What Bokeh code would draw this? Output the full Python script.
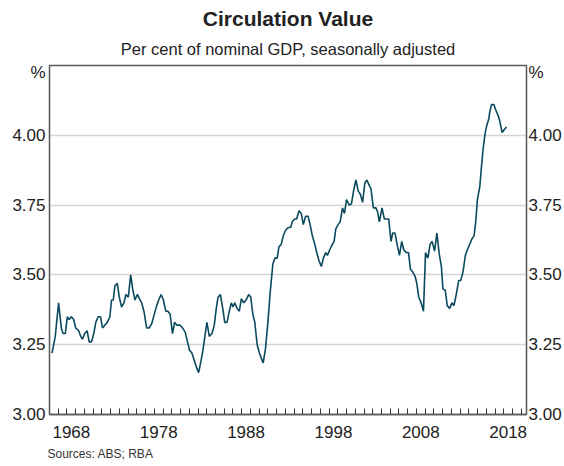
from bokeh.plotting import figure
from bokeh.models import FixedTicker, LinearAxis, Title, Range1d, NumeralTickFormatter
from bokeh.embed import file_html
from bokeh.resources import INLINE

# ---- data ----
years = [
    1966.29, 1966.66, 1967.04, 1967.35, 1967.55, 1967.81, 1968.04, 1968.24, 1968.50, 1968.77,
    1969.00, 1969.34, 1969.57, 1969.77, 1970.03, 1970.31, 1970.54, 1970.80, 1971.07, 1971.30,
    1971.57, 1971.84, 1972.07, 1972.33, 1972.61, 1972.91, 1973.10, 1973.30, 1973.48, 1973.76,
    1973.99, 1974.25, 1974.52, 1974.75, 1975.02, 1975.29, 1975.52, 1975.78, 1976.06, 1976.29,
    1976.55, 1976.81, 1977.12, 1977.39, 1977.70, 1977.96, 1978.27, 1978.50, 1978.77, 1979.04,
    1979.31, 1979.54, 1979.80, 1980.08, 1980.31, 1980.57, 1980.95, 1981.23, 1981.53, 1981.80,
    1982.03, 1982.30, 1982.61, 1982.87, 1983.07, 1983.33, 1983.56, 1983.83, 1984.02, 1984.29,
    1984.60, 1984.86, 1985.09, 1985.29, 1985.55, 1985.83, 1986.06, 1986.32, 1986.58, 1986.81,
    1987.01, 1987.20, 1987.47, 1987.73, 1987.96, 1988.24, 1988.50, 1988.81, 1989.04, 1989.27,
    1989.50, 1989.77, 1990.03, 1990.26, 1990.46, 1990.72, 1991.00, 1991.27, 1991.57, 1991.80,
    1992.07, 1992.26, 1992.53, 1992.76, 1993.02, 1993.33, 1993.60, 1993.79, 1994.06, 1994.29,
    1994.56, 1994.82, 1995.05, 1995.32, 1995.60, 1995.83, 1996.09, 1996.36, 1996.59, 1996.86,
    1997.12, 1997.35, 1997.62, 1997.81, 1998.08, 1998.39, 1998.58, 1998.77, 1999.04, 1999.27,
    1999.54, 1999.76, 2000.00, 2000.31, 2000.57, 2000.80, 2001.07, 2001.34, 2001.57, 2001.84,
    2002.10, 2002.33, 2002.61, 2002.79, 2003.07, 2003.37, 2003.56, 2003.76, 2004.06, 2004.33,
    2004.60, 2004.83, 2005.09, 2005.29, 2005.55, 2005.78, 2006.06, 2006.32, 2006.55, 2006.81,
    2007.09, 2007.32, 2007.58, 2007.85, 2008.04, 2008.27, 2008.54, 2008.81, 2009.04, 2009.31,
    2009.57, 2009.80, 2010.08, 2010.34, 2010.61, 2010.86, 2011.03, 2011.30, 2011.53, 2011.80,
    2012.07, 2012.30, 2012.56, 2012.84, 2013.07, 2013.33, 2013.60, 2013.83, 2014.10, 2014.37,
    2014.60, 2014.79, 2014.98, 2015.25, 2015.44, 2015.63, 2015.83, 2016.01, 2016.29, 2016.40,
    2016.59, 2016.86, 2017.09, 2017.36, 2017.55, 2017.81, 2018.04, 2018.31,
]
values = [
    3.22, 3.28, 3.40, 3.31, 3.29, 3.29, 3.35, 3.34, 3.35, 3.34,
    3.31, 3.30, 3.28, 3.27, 3.29, 3.30, 3.26, 3.26, 3.29, 3.33,
    3.35, 3.35, 3.31, 3.32, 3.33, 3.35, 3.41, 3.41, 3.46, 3.47,
    3.42, 3.385, 3.40, 3.43, 3.42, 3.50, 3.45, 3.41, 3.43, 3.415,
    3.40, 3.37, 3.31, 3.31, 3.325, 3.355, 3.39, 3.41, 3.43, 3.41,
    3.37, 3.37, 3.36, 3.29, 3.33, 3.32, 3.32, 3.31, 3.295, 3.26,
    3.23, 3.22, 3.19, 3.165, 3.15, 3.19, 3.23, 3.29, 3.33, 3.28,
    3.29, 3.32, 3.38, 3.42, 3.43, 3.38, 3.33, 3.33, 3.37, 3.40,
    3.385, 3.40, 3.38, 3.37, 3.415, 3.40, 3.41, 3.43, 3.42, 3.36,
    3.33, 3.25, 3.22, 3.20, 3.185, 3.235, 3.33, 3.44, 3.54, 3.56,
    3.56, 3.60, 3.61, 3.64, 3.66, 3.67, 3.67, 3.69, 3.70, 3.70,
    3.73, 3.72, 3.68, 3.71, 3.71, 3.68, 3.64, 3.61, 3.58, 3.55,
    3.53, 3.56, 3.58, 3.57, 3.59, 3.61, 3.62, 3.665, 3.68, 3.69,
    3.74, 3.72, 3.77, 3.75, 3.755, 3.80, 3.84, 3.80, 3.79, 3.76,
    3.83, 3.84, 3.82, 3.81, 3.74, 3.74, 3.725, 3.69, 3.74, 3.70,
    3.70, 3.70, 3.62, 3.65, 3.65, 3.61, 3.57, 3.62, 3.59, 3.58,
    3.58, 3.52, 3.51, 3.495, 3.47, 3.42, 3.40, 3.37, 3.58, 3.56,
    3.61, 3.62, 3.585, 3.65, 3.575, 3.53, 3.45, 3.445, 3.39, 3.38,
    3.40, 3.39, 3.43, 3.48, 3.48, 3.51, 3.57, 3.59, 3.61, 3.63,
    3.64, 3.69, 3.77, 3.815, 3.885, 3.95, 4.00, 4.03, 4.06, 4.085,
    4.11, 4.11, 4.09, 4.07, 4.05, 4.01, 4.02, 4.03,
]

label_years = [1968, 1978, 1988, 1998, 2008, 2018]
year_ticks = list(range(1967, 2021))
y_ticks = [3.0, 3.25, 3.5, 3.75, 4.0]
grid_ticks = [3.25, 3.5, 3.75, 4.0]
unit_pos = 4.224
unit_label = "%"

title_text = "Circulation Value"
subtitle_text = "Per cent of nominal GDP, seasonally adjusted"
source_text = "Sources: ABS; RBA"

FONT = "Liberation Sans"
LINE_COLOR = "#0b4a5e"
AXIS_COLOR = "#5a5a5a"
TEXT_COLOR = "#222222"

p = figure(
    width=564, height=466,
    x_range=Range1d(1966.0, 2020.6), y_range=Range1d(3.0, 4.25),
    output_backend="svg", toolbar_location=None,
    min_border_left=49, min_border_right=38, min_border_top=65, min_border_bottom=52,
)
p.title.text = title_text
p.title.align = "center"
p.title.text_font = FONT
p.title.text_font_size = "21px"
p.title.text_font_style = "bold"
p.title.text_color = TEXT_COLOR
p.title.standoff = 0

sub = Title(text=subtitle_text, align="center", text_font=FONT, text_font_size="16.5px",
            text_font_style="normal", text_color=TEXT_COLOR, standoff=16, offset=-3)
p.add_layout(sub, "above")

p.line(years, values, line_color=LINE_COLOR, line_width=1.6)

p.outline_line_color = AXIS_COLOR
p.outline_line_width = 1.3
p.background_fill_color = "white"
p.border_fill_color = "white"

# grid
p.xgrid.visible = False
p.ygrid.ticker = FixedTicker(ticks=grid_ticks)
p.ygrid.grid_line_color = "#d4d4d4"
p.ygrid.grid_line_width = 1.6

# y axes
overrides_y = {unit_pos: unit_label}
def style_y(ax, standoff):
    ax.ticker = FixedTicker(ticks=y_ticks + [unit_pos])
    ax.formatter = NumeralTickFormatter(format="0.00")
    ax.major_label_overrides = overrides_y
    ax.major_tick_in = 0
    ax.major_tick_out = 0
    ax.minor_tick_in = 0
    ax.minor_tick_out = 0
    ax.axis_line_color = AXIS_COLOR
    ax.axis_line_width = 1.3
    ax.major_label_text_font = FONT
    ax.major_label_text_font_size = "17px"
    ax.major_label_text_color = TEXT_COLOR
    ax.major_label_standoff = standoff

style_y(p.yaxis[0], 4)
right = LinearAxis()
style_y(right, 2)
p.add_layout(right, "right")

# x axis
xa = p.xaxis[0]
xa.ticker = FixedTicker(ticks=[y + 0.5 for y in label_years], minor_ticks=year_ticks)
xa.major_label_overrides = {y + 0.5: str(y) for y in label_years}
xa.major_tick_in = 0
xa.major_tick_out = 0
xa.minor_tick_in = 6
xa.minor_tick_out = 0
xa.minor_tick_line_color = "#333333"
xa.minor_tick_line_width = 1
xa.axis_line_color = AXIS_COLOR
xa.axis_line_width = 1.3
xa.major_label_text_font = FONT
xa.major_label_text_font_size = "17px"
xa.major_label_text_color = TEXT_COLOR
xa.major_label_standoff = 11

src = Title(text=source_text, align="left", text_font=FONT, text_font_size="12px",
            text_font_style="normal", text_color="#333333", standoff=9, offset=-2)
p.add_layout(src, "below")

open("out.html", "w").write(file_html(p, INLINE))
